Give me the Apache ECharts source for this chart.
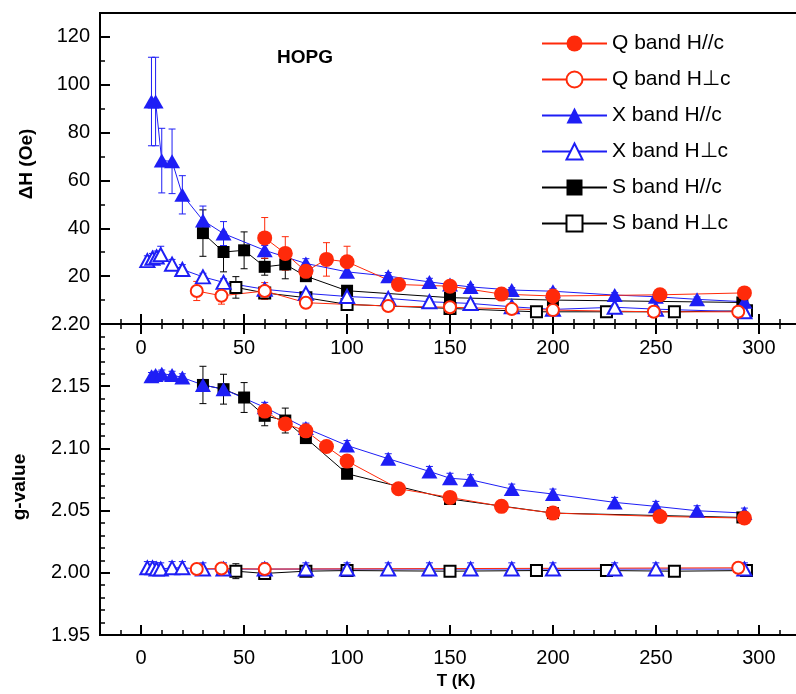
<!DOCTYPE html>
<html>
<head>
<meta charset="utf-8">
<script src="https://cdn.jsdelivr.net/npm/echarts@6/dist/echarts.min.js"></script>
<style>html,body{margin:0;padding:0;background:#fff;}#chart{width:796px;height:694px;}</style>
</head>
<body>
<div id="chart"></div>
<script>
// ---------- data ----------
const xMajorTicks = [0, 50, 100, 150, 200, 250, 300];
const dHMajorTicks = [20, 40, 60, 80, 100, 120];

// Q band H//c
const T_Qpar = [60, 70, 80, 90, 100, 125, 150, 175, 200, 252, 293];
const dH_Qpar = [36, 29.5, 22, 27, 26, 16.5, 15.8, 12.5, 11.7, 12.2, 13];
const dHerr_Qpar = [8.5, 7, 2, 7, 6.5, 1.5, 1.5, 1, 1, 1.5, 1.8];
const g_Qpar = [2.130, 2.1197, 2.1141, 2.1015, 2.0898, 2.0676, 2.0606, 2.0534, 2.048, 2.0453, 2.044];
const gerr_Qpar = [0.002, 0.002, 0.002, 0.001, 0.001, 0.001, 0.001, 0.001, 0.001, 0.001, 0.001];

// Q band H⊥c
const T_Qperp_dH = [27, 39, 60, 80, 120, 150, 180, 200, 249, 290];
const dH_Qperp = [13.8, 11.8, 13.8, 8.9, 7.5, 7, 6.3, 5.8, 5.1, 5.1];
const dHerr_Qperp = [4, 3.5, 3.5, 1.5, 1, 1, 0.8, 0.8, 0.8, 0.8];
const T_Qperp_g = [27, 39, 60, 290];
const g_Qperp = [2.0031, 2.0034, 2.003, 2.004];
const gerr_Qperp = [0.003, 0.003, 0.003, 0.002];

// X band H//c
const T_Xpar = [5, 7, 10, 15, 20, 30, 40, 60, 80, 100, 120, 140, 150, 160, 180, 200, 230, 250, 270, 293];
const dH_Xpar = [93, 93, 68.3, 68, 54, 43.3, 37.8, 30.8, 25.3, 21.8, 20, 17.6, 16.5, 15.5, 14.2, 13.7, 12.1, 11.4, 10.3, 9.3];
const dHerr_Xpar = [18.5, 18.5, 13.5, 13.5, 8, 6, 5, 2, 2, 2, 1.5, 1.5, 1, 1, 1, 1, 1, 1, 1, 1];
const g_Xpar = [2.158, 2.159, 2.160, 2.159, 2.157, 2.151, 2.1476, 2.133, 2.1163, 2.1023, 2.0917, 2.0815, 2.076, 2.0748, 2.0673, 2.0633, 2.0566, 2.0534, 2.0499, 2.048];
const gerr_Xpar = [0.003, 0.003, 0.003, 0.003, 0.003, 0.004, 0.004, 0.004, 0.004, 0.004, 0.004, 0.004, 0.004, 0.004, 0.004, 0.004, 0.004, 0.004, 0.004, 0.004];

// X band H⊥c
const T_Xperp = [3, 5.5, 7.5, 9.5, 15, 20, 30, 40, 60, 80, 100, 120, 140, 160, 180, 200, 230, 250, 293];
const dH_Xperp = [26.5, 27.5, 28, 29, 25, 22.8, 19.7, 17.4, 14.5, 12.8, 11.5, 10.7, 9.3, 8.6, 7.2, 6.1, 7, 6.2, 5.1];
const dHerr_Xperp = [2, 2, 2.5, 3.5, 2, 2, 1.5, 1.5, 1.5, 1, 1, 1, 1, 1, 1, 1, 1, 1, 1];
const g_Xperp = [2.004, 2.004, 2.003, 2.003, 2.004, 2.004, 2.003, 2.003, 2.003, 2.003, 2.003, 2.003, 2.003, 2.003, 2.003, 2.003, 2.003, 2.003, 2.003];
const gerr_Xperp = [0.005, 0.005, 0.005, 0.005, 0.005, 0.005, 0.005, 0.005, 0.005, 0.005, 0.005, 0.005, 0.005, 0.005, 0.005, 0.005, 0.005, 0.005, 0.005];

// S band H//c
const T_Spar = [30, 40, 50, 60, 70, 80, 100, 150, 200, 292];
const dH_Spar = [38, 30.1, 30.8, 23.9, 24.9, 20, 13.9, 11, 10, 9];
const dHerr_Spar = [9.7, 8.3, 7.7, 3.5, 6, 2, 1, 1, 1, 1];
const g_Spar = [2.151, 2.1476, 2.1409, 2.1262, 2.1224, 2.1083, 2.0796, 2.0593, 2.048, 2.0445];
const gerr_Spar = [0.015, 0.012, 0.012, 0.008, 0.01, 0.002, 0.001, 0.001, 0.001, 0.001];

// S band H⊥c
const T_Sperp = [46, 60, 80, 100, 150, 192, 226, 259, 294];
const dH_Sperp = [15.3, 13, 11, 8.2, 6.5, 5.1, 5.1, 5.1, 5.5];
const dHerr_Sperp = [4.5, 2, 1, 1, 1, 1, 1, 1, 1];
const g_Sperp = [2.0013, 1.9995, 2.0013, 2.0018, 2.0013, 2.0018, 2.0018, 2.0013, 2.0018];
const gerr_Sperp = [0.006, 0.004, 0.002, 0.002, 0.002, 0.002, 0.002, 0.002, 0.002];

// ---------- styling ----------
const FONT = '"Liberation Sans", Arial, Helvetica, sans-serif';
const RED = '#ff2a0a';
const BLUE = '#1e1ef5';
const BLACK = '#000000';

const names = ['Q band H//c', 'Q band H\u22A5c', 'X band H//c', 'X band H\u22A5c', 'S band H//c', 'S band H\u22A5c'];

function zip(xs, ys, es) { return xs.map((x, i) => es ? [x, ys[i], es[i]] : [x, ys[i]]); }

function errSeries(xi, yi, data, color) {
  return {
    type: 'custom', xAxisIndex: xi, yAxisIndex: yi, silent: true, z: 1,
    encode: { x: 0, y: 1 },
    data: data,
    renderItem: function (params, api) {
      const x = api.value(0), y = api.value(1), e = api.value(2);
      const hi = api.coord([x, y + e]), lo = api.coord([x, y - e]);
      const c = 3.5;
      const st = { stroke: color, lineWidth: 1, fill: null };
      return { type: 'group', children: [
        { type: 'line', shape: { x1: hi[0], y1: hi[1], x2: lo[0], y2: lo[1] }, style: st },
        { type: 'line', shape: { x1: hi[0] - c, y1: hi[1], x2: hi[0] + c, y2: hi[1] }, style: st },
        { type: 'line', shape: { x1: lo[0] - c, y1: lo[1], x2: lo[0] + c, y2: lo[1] }, style: st }
      ]};
    }
  };
}

function lineSeries(name, xi, yi, data, color, symbol, size, bw) {
  return {
    name: name, type: 'line', xAxisIndex: xi, yAxisIndex: yi, data: data, z: 3,
    symbol: symbol, symbolSize: size, showSymbol: true, showAllSymbol: true,
    lineStyle: { color: color, width: 1 },
    itemStyle: { color: color, borderColor: color, borderWidth: bw },
    emphasis: { disabled: true }
  };
}

function xMinor(grid, pos) {
  return { type: 'value', gridIndex: grid, position: pos, min: -20, max: 320, interval: 10,
    axisLine: { show: true, onZero: false, lineStyle: { color: '#000', width: 2 } },
    axisTick: { show: true, inside: true, length: 5, lineStyle: { color: '#000', width: 1.5 } },
    axisLabel: { show: false }, splitLine: { show: false } };
}
function xMajor(grid, pos, showLabels, insideLabels, margin) {
  return { type: 'value', gridIndex: grid, position: pos, min: -20, max: 320,
    axisLine: { show: false, onZero: false },
    axisTick: { show: true, inside: true, length: 10, customValues: xMajorTicks, lineStyle: { color: '#000', width: 2 } },
    axisLabel: { show: showLabels, inside: insideLabels, customValues: xMajorTicks, margin: margin,
      fontSize: 20, color: '#000', fontFamily: FONT },
    splitLine: { show: false } };
}

const series = [];
// draw order: S (bottom), X, Q (top)
series.push(errSeries(0, 0, zip(T_Sperp, dH_Sperp, dHerr_Sperp), BLACK));
series.push(errSeries(0, 0, zip(T_Spar, dH_Spar, dHerr_Spar), BLACK));
series.push(errSeries(0, 0, zip(T_Xperp, dH_Xperp, dHerr_Xperp), BLUE));
series.push(errSeries(0, 0, zip(T_Xpar, dH_Xpar, dHerr_Xpar), BLUE));
series.push(errSeries(0, 0, zip(T_Qperp_dH, dH_Qperp, dHerr_Qperp), RED));
series.push(errSeries(0, 0, zip(T_Qpar, dH_Qpar, dHerr_Qpar), RED));

series.push(errSeries(2, 2, zip(T_Sperp, g_Sperp, gerr_Sperp), BLACK));
series.push(errSeries(2, 2, zip(T_Spar, g_Spar, gerr_Spar), BLACK));
series.push(errSeries(2, 2, zip(T_Xperp, g_Xperp, gerr_Xperp), BLUE));
series.push(errSeries(2, 2, zip(T_Xpar, g_Xpar, gerr_Xpar), BLUE));
series.push(errSeries(2, 2, zip(T_Qperp_g, g_Qperp, gerr_Qperp), RED));
series.push(errSeries(2, 2, zip(T_Qpar, g_Qpar, gerr_Qpar), RED));

// top panel lines
series.push(lineSeries(names[5], 0, 0, zip(T_Sperp, dH_Sperp), BLACK, 'emptyRect', 11, 1.5));
series.push(lineSeries(names[4], 0, 0, zip(T_Spar, dH_Spar), BLACK, 'rect', 12, 0));
series.push(lineSeries(names[3], 0, 0, zip(T_Xperp, dH_Xperp), BLUE, 'emptyTriangle', [14, 13], 1.5));
series.push(lineSeries(names[2], 0, 0, zip(T_Xpar, dH_Xpar), BLUE, 'triangle', [16, 14], 0));
series.push(lineSeries(names[1], 0, 0, zip(T_Qperp_dH, dH_Qperp), RED, 'emptyCircle', 12, 2));
series.push(lineSeries(names[0], 0, 0, zip(T_Qpar, dH_Qpar), RED, 'circle', 15, 0));
// bottom panel lines
series.push(lineSeries(names[5], 2, 2, zip(T_Sperp, g_Sperp), BLACK, 'emptyRect', 11, 1.5));
series.push(lineSeries(names[4], 2, 2, zip(T_Spar, g_Spar), BLACK, 'rect', 12, 0));
series.push(lineSeries(names[3], 2, 2, zip(T_Xperp, g_Xperp), BLUE, 'emptyTriangle', [14, 13], 1.5));
series.push(lineSeries(names[2], 2, 2, zip(T_Xpar, g_Xpar), BLUE, 'triangle', [16, 14], 0));
series.push(lineSeries(names[1], 2, 2, zip(T_Qperp_g, g_Qperp), RED, 'emptyCircle', 12, 2));
series.push(lineSeries(names[0], 2, 2, zip(T_Qpar, g_Qpar), RED, 'circle', 15, 0));

const chart = echarts.init(document.getElementById('chart'), null, { renderer: 'canvas' });
chart.setOption({
  animation: false,
  backgroundColor: '#fff',
  title: { text: 'HOPG', left: 272, top: 43,
    textStyle: { fontSize: 19, fontWeight: 'bold', fontFamily: FONT, color: '#000' } },
  legend: {
    orient: 'vertical', left: 541, top: 33, padding: 0, itemWidth: 65, itemHeight: 20, itemGap: 15,
    selectedMode: false, data: names,
    textStyle: { fontSize: 21, fontFamily: FONT, color: '#000' }
  },
  grid: [
    { left: 100, top: 13, right: -4, height: 311, show: true, borderColor: '#000', borderWidth: 2,
      containLabel: false, outerBoundsMode: 'none' },
    { left: 100, top: 324, right: -4, height: 311, show: true, borderColor: '#000', borderWidth: 2,
      containLabel: false, outerBoundsMode: 'none' }
  ],
  xAxis: [
    xMinor(0, 'bottom'),
    xMajor(0, 'bottom', false, true, 8),
    xMinor(1, 'top'),
    xMajor(1, 'top', true, true, 14),
    xMinor(1, 'bottom'),
    xMajor(1, 'bottom', true, false, 13)
  ],
  yAxis: [
    { type: 'value', gridIndex: 0, position: 'left', min: 0, max: 130, interval: 10,
      axisLine: { show: true, onZero: false, lineStyle: { color: '#000', width: 2 } },
      axisTick: { show: true, inside: true, length: 5, lineStyle: { color: '#000', width: 1.5 } },
      axisLabel: { show: false }, splitLine: { show: false } },
    { type: 'value', gridIndex: 0, position: 'left', min: 0, max: 130,
      axisLine: { show: false, onZero: false },
      axisTick: { show: true, inside: true, length: 10, customValues: dHMajorTicks, lineStyle: { color: '#000', width: 2 } },
      axisLabel: { show: true, customValues: dHMajorTicks, margin: 10, fontSize: 20, color: '#000', fontFamily: FONT },
      splitLine: { show: false } },
    { type: 'value', gridIndex: 1, position: 'left', min: 1.95, max: 2.20, interval: 0.05,
      axisLine: { show: true, onZero: false, lineStyle: { color: '#000', width: 2 } },
      axisTick: { show: true, inside: true, length: 10, lineStyle: { color: '#000', width: 2 } },
      minorTick: { show: true, splitNumber: 5, length: 5, lineStyle: { color: '#000', width: 1.5 } },
      axisLabel: { show: true, margin: 10, fontSize: 20, color: '#000', fontFamily: FONT,
        formatter: function (v) { return v.toFixed(2); } },
      splitLine: { show: false } }
  ],
  graphic: [
    { type: 'text', x: 27, y: 164, rotation: Math.PI / 2,
      style: { text: '\u0394H (Oe)', font: 'bold 19px ' + FONT, fill: '#000', align: 'center', verticalAlign: 'middle' } },
    { type: 'text', x: 20, y: 487, rotation: Math.PI / 2,
      style: { text: 'g-value', font: 'bold 19px ' + FONT, fill: '#000', align: 'center', verticalAlign: 'middle' } },
    { type: 'text', x: 456, y: 681,
      style: { text: 'T (K)', font: 'bold 17px ' + FONT, fill: '#000', align: 'center', verticalAlign: 'middle' } }
  ],
  series: series
});
</script>
</body>
</html>
